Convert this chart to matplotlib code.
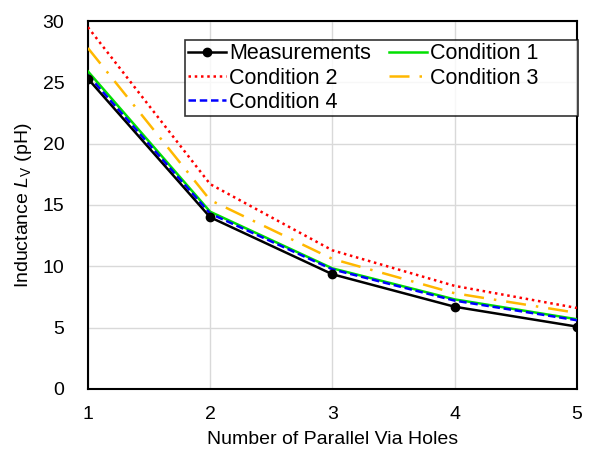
import matplotlib
matplotlib.use("Agg")
import matplotlib.pyplot as plt

plt.rcParams["font.family"] = ["Liberation Sans", "DejaVu Sans"]
plt.rcParams["mathtext.fontset"] = "custom"
plt.rcParams["mathtext.rm"] = "Liberation Sans"
plt.rcParams["mathtext.it"] = "Liberation Sans:italic"

n_vias = [1, 2, 3, 4, 5]
measurements = [25.3, 14.0, 9.35, 6.7, 5.08]
cond1 = [25.9, 14.45, 9.83, 7.3, 5.68]
cond2 = [29.5, 16.7, 11.3, 8.4, 6.6]
cond3 = [27.8, 15.4, 10.6, 7.8, 6.2]
cond4 = [25.6, 14.3, 9.75, 7.2, 5.6]

fig = plt.figure(figsize=(6.06, 4.57), dpi=100)
ax = fig.add_axes([0.145, 0.149, 0.807, 0.805])

h_m, = ax.plot(n_vias, measurements, color="black", lw=1.8, marker="o", ms=6, label="Measurements", zorder=5)
h_1, = ax.plot(n_vias, cond1, color="#00e000", lw=1.8, label="Condition 1", zorder=3)
h_2, = ax.plot(n_vias, cond2, color="red", lw=1.8, ls=(0, (1, 1.5)), label="Condition 2", zorder=3)
h_3, = ax.plot(n_vias, cond3, color="#ffb800", lw=1.8, ls=(0, (8, 4, 1, 4)), label="Condition 3", zorder=3)
h_4, = ax.plot(n_vias, cond4, color="#0000ff", lw=1.8, ls=(0, (3, 1.5)), label="Condition 4", zorder=4)

ax.set_xlim(1, 5)
ax.set_ylim(0, 30)
ax.set_xticks(n_vias)
ax.set_yticks([0, 5, 10, 15, 20, 25, 30])
ax.grid(True, color="#d9d9d9", lw=1)
ax.set_axisbelow(True)
for s in ax.spines.values():
    s.set_linewidth(1.5)
    s.set_color("black")
ax.tick_params(length=0, labelsize=14)
ax.tick_params(axis="y", pad=17)
ax.tick_params(axis="x", pad=12)

ax.set_xlabel("Number of Parallel Via Holes", fontsize=14, labelpad=6)
ax.set_ylabel(r"Inductance $\mathit{L}_\mathrm{V}$ (pH)", fontsize=14, labelpad=6)

# row-wise order like the original: matplotlib fills columns first
handles = [h_m, h_2, h_4, h_1, h_3]
labels = ["Measurements", "Condition 2", "Condition 4", "Condition 1      ", "Condition 3      "]
leg = ax.legend(handles=handles, labels=labels, ncol=2,
                loc="upper right", bbox_to_anchor=(1.002, 0.948), borderaxespad=0,
                fontsize=15.5, frameon=True, fancybox=False, edgecolor="black",
                handlelength=1.75, handletextpad=0.15, columnspacing=0.85,
                labelspacing=0.15, borderpad=0.15)
leg.get_frame().set_linewidth(1.2)

fig.savefig("out.png", dpi=100)
